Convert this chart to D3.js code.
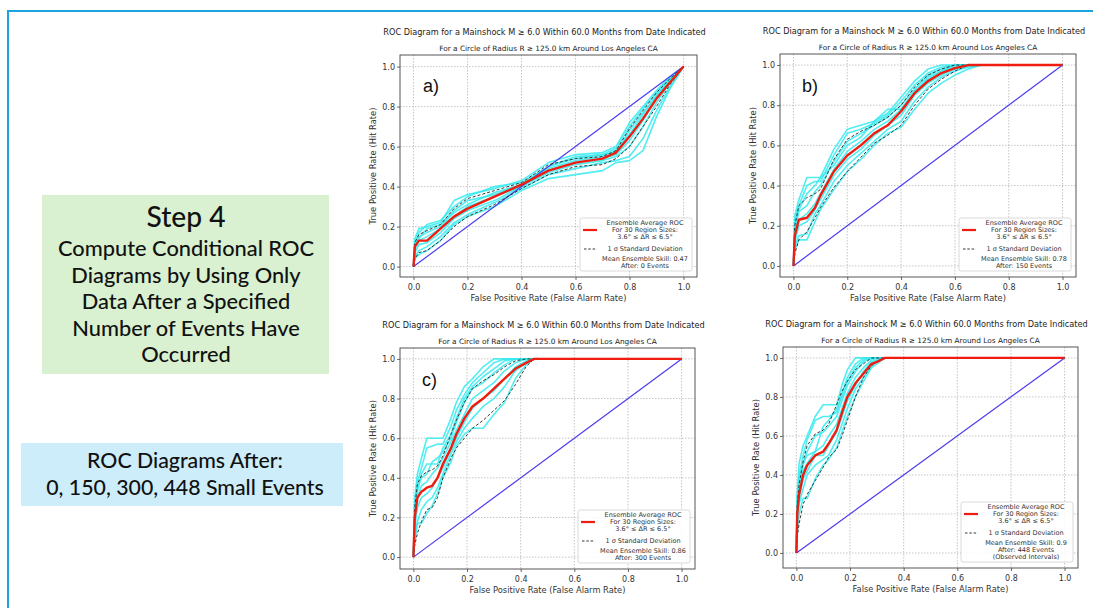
<!DOCTYPE html>
<html>
<head>
<meta charset="utf-8">
<script src="https://cdn.jsdelivr.net/npm/d3@7"></script>
<style>
  body { margin: 0; background: #fff; }
  svg { display: block; }
</style>
</head>
<body>
<div id="chart"></div>
<script>
// ---- data ----
const ticks = [0, 0.2, 0.4, 0.6, 0.8, 1.0];
const skillValues = [0.47, 0.78, 0.86, 0.9];
const eventsAfter = [0, 150, 300, 448];
const panelLabels = ["a)", "b)", "c)", ""];

// panel a (after 0 events)
const xGridA = [0, 0.005, 0.02, 0.05, 0.1, 0.15, 0.2, 0.3, 0.4, 0.5, 0.6, 0.7, 0.75, 0.8, 0.85, 0.9, 0.95, 1];
const meanA  = [0, 0.10, 0.13, 0.13, 0.19, 0.25, 0.29, 0.35, 0.41, 0.48, 0.52, 0.54, 0.57, 0.65, 0.74, 0.84, 0.92, 1];
const upperA = [0, 0.12, 0.16, 0.18, 0.21, 0.29, 0.34, 0.38, 0.42, 0.51, 0.54, 0.55, 0.58, 0.69, 0.78, 0.87, 0.94, 1];
const lowerA = [0, 0.04, 0.07, 0.08, 0.13, 0.20, 0.25, 0.31, 0.39, 0.46, 0.50, 0.51, 0.54, 0.60, 0.70, 0.80, 0.91, 1];
const cyanA = [
  [0, 0.14, 0.19, 0.20, 0.22, 0.33, 0.36, 0.39, 0.43, 0.52, 0.56, 0.57, 0.60, 0.72, 0.80, 0.88, 0.95, 1],
  [0, 0.12, 0.17, 0.21, 0.23, 0.30, 0.35, 0.40, 0.42, 0.50, 0.55, 0.56, 0.59, 0.70, 0.79, 0.87, 0.94, 1],
  [0, 0.11, 0.15, 0.17, 0.20, 0.27, 0.31, 0.37, 0.41, 0.49, 0.53, 0.55, 0.58, 0.66, 0.76, 0.86, 0.93, 1],
  [0, 0.09, 0.13, 0.15, 0.19, 0.25, 0.30, 0.35, 0.40, 0.48, 0.52, 0.54, 0.56, 0.63, 0.73, 0.84, 0.93, 1],
  [0, 0.07, 0.11, 0.12, 0.17, 0.24, 0.28, 0.33, 0.40, 0.47, 0.51, 0.53, 0.55, 0.60, 0.70, 0.82, 0.92, 1],
  [0, 0.05, 0.08, 0.10, 0.15, 0.22, 0.26, 0.32, 0.39, 0.46, 0.49, 0.52, 0.53, 0.55, 0.64, 0.78, 0.90, 1],
  [0, 0.04, 0.06, 0.08, 0.13, 0.21, 0.25, 0.30, 0.38, 0.44, 0.46, 0.48, 0.52, 0.53, 0.58, 0.75, 0.89, 1],
  [0, 0.10, 0.14, 0.19, 0.21, 0.28, 0.33, 0.36, 0.41, 0.50, 0.54, 0.56, 0.57, 0.68, 0.77, 0.85, 0.93, 1]
];

// panel b (after 150 events)
const xGridB = [0, 0.005, 0.02, 0.05, 0.08, 0.1, 0.15, 0.2, 0.25, 0.3, 0.35, 0.4, 0.45, 0.5, 0.55, 0.6, 0.65, 0.7, 1];
const meanB  = [0, 0.15, 0.23, 0.24, 0.29, 0.35, 0.47, 0.55, 0.60, 0.66, 0.70, 0.77, 0.86, 0.92, 0.96, 0.985, 1, 1, 1];
const upperB = [0, 0.20, 0.30, 0.34, 0.36, 0.38, 0.53, 0.63, 0.67, 0.70, 0.74, 0.80, 0.89, 0.95, 0.98, 1, 1, 1, 1];
const lowerB = [0, 0.06, 0.13, 0.17, 0.24, 0.29, 0.39, 0.47, 0.54, 0.61, 0.65, 0.70, 0.80, 0.88, 0.93, 0.97, 1, 1, 1];
const cyanB = [
  [0, 0.25, 0.33, 0.44, 0.44, 0.44, 0.58, 0.68, 0.70, 0.72, 0.76, 0.84, 0.92, 0.98, 1, 1, 1, 1, 1],
  [0, 0.22, 0.30, 0.40, 0.42, 0.42, 0.55, 0.66, 0.68, 0.71, 0.75, 0.82, 0.90, 0.96, 0.99, 1, 1, 1, 1],
  [0, 0.18, 0.27, 0.30, 0.37, 0.40, 0.52, 0.62, 0.66, 0.70, 0.74, 0.80, 0.88, 0.95, 0.98, 1, 1, 1, 1],
  [0, 0.15, 0.23, 0.26, 0.31, 0.36, 0.48, 0.57, 0.62, 0.68, 0.72, 0.78, 0.87, 0.93, 0.97, 0.99, 1, 1, 1],
  [0, 0.12, 0.20, 0.22, 0.28, 0.33, 0.45, 0.53, 0.58, 0.65, 0.70, 0.75, 0.85, 0.91, 0.95, 0.98, 0.99, 1, 1],
  [0, 0.10, 0.15, 0.16, 0.26, 0.30, 0.42, 0.50, 0.56, 0.62, 0.68, 0.72, 0.82, 0.89, 0.94, 0.97, 0.99, 1, 1],
  [0, 0.08, 0.13, 0.13, 0.22, 0.28, 0.38, 0.47, 0.53, 0.60, 0.66, 0.69, 0.78, 0.86, 0.91, 0.95, 0.98, 1, 1],
  [0, 0.20, 0.28, 0.36, 0.40, 0.44, 0.50, 0.60, 0.64, 0.72, 0.78, 0.78, 0.86, 0.94, 0.97, 1, 1, 1, 1]
];

// panel c (after 300 events)
const xGridC = [0, 0.005, 0.015, 0.03, 0.05, 0.07, 0.09, 0.11, 0.14, 0.16, 0.19, 0.22, 0.26, 0.3, 0.34, 0.38, 0.42, 0.45, 1];
const meanC  = [0, 0.20, 0.30, 0.33, 0.35, 0.36, 0.40, 0.47, 0.55, 0.62, 0.70, 0.76, 0.80, 0.85, 0.90, 0.95, 0.98, 1, 1];
const upperC = [0, 0.25, 0.37, 0.41, 0.43, 0.44, 0.46, 0.51, 0.62, 0.69, 0.78, 0.85, 0.89, 0.92, 0.96, 0.99, 1, 1, 1];
const lowerC = [0, 0.06, 0.12, 0.18, 0.24, 0.25, 0.30, 0.40, 0.50, 0.55, 0.60, 0.65, 0.69, 0.74, 0.79, 0.87, 0.96, 1, 1];
const cyanC = [
  [0, 0.30, 0.42, 0.50, 0.60, 0.60, 0.60, 0.60, 0.70, 0.78, 0.86, 0.90, 0.96, 1, 1, 1, 1, 1, 1],
  [0, 0.28, 0.38, 0.45, 0.55, 0.56, 0.57, 0.57, 0.66, 0.74, 0.82, 0.88, 0.93, 0.98, 1, 1, 1, 1, 1],
  [0, 0.25, 0.35, 0.40, 0.42, 0.48, 0.50, 0.53, 0.60, 0.68, 0.78, 0.85, 0.88, 0.93, 0.97, 1, 1, 1, 1],
  [0, 0.20, 0.30, 0.36, 0.38, 0.42, 0.45, 0.50, 0.58, 0.64, 0.72, 0.80, 0.84, 0.88, 0.94, 0.98, 1, 1, 1],
  [0, 0.15, 0.25, 0.30, 0.32, 0.35, 0.40, 0.45, 0.54, 0.60, 0.68, 0.75, 0.80, 0.84, 0.90, 0.96, 0.99, 1, 1],
  [0, 0.10, 0.18, 0.24, 0.28, 0.30, 0.35, 0.42, 0.52, 0.58, 0.65, 0.70, 0.76, 0.80, 0.86, 0.94, 0.98, 1, 1],
  [0, 0.08, 0.17, 0.17, 0.22, 0.26, 0.32, 0.40, 0.48, 0.56, 0.62, 0.65, 0.65, 0.72, 0.78, 0.90, 0.97, 1, 1],
  [0, 0.22, 0.33, 0.42, 0.47, 0.47, 0.47, 0.55, 0.62, 0.70, 0.80, 0.86, 0.91, 0.95, 0.99, 1, 1, 1, 1]
];

// panel d (after 448 events)
const xGridD = [0, 0.003, 0.01, 0.025, 0.04, 0.07, 0.1, 0.12, 0.15, 0.17, 0.19, 0.22, 0.25, 0.28, 0.3, 0.33, 1];
const meanD  = [0, 0.20, 0.30, 0.40, 0.45, 0.50, 0.52, 0.56, 0.63, 0.72, 0.80, 0.87, 0.92, 0.97, 0.98, 1, 1];
const upperD = [0, 0.25, 0.35, 0.47, 0.55, 0.61, 0.63, 0.66, 0.76, 0.83, 0.88, 0.94, 0.97, 1, 1, 1, 1];
const lowerD = [0, 0.08, 0.15, 0.25, 0.30, 0.37, 0.44, 0.49, 0.53, 0.60, 0.68, 0.80, 0.90, 0.96, 0.98, 1, 1];
const cyanD = [
  [0, 0.30, 0.46, 0.55, 0.60, 0.70, 0.76, 0.76, 0.76, 0.86, 0.94, 1, 1, 1, 1, 1, 1],
  [0, 0.28, 0.40, 0.50, 0.58, 0.68, 0.70, 0.70, 0.72, 0.82, 0.90, 0.97, 1, 1, 1, 1, 1],
  [0, 0.25, 0.35, 0.45, 0.52, 0.60, 0.62, 0.65, 0.70, 0.78, 0.86, 0.93, 0.98, 1, 1, 1, 1],
  [0, 0.22, 0.32, 0.42, 0.46, 0.52, 0.55, 0.60, 0.66, 0.74, 0.82, 0.90, 0.95, 0.99, 1, 1, 1],
  [0, 0.18, 0.28, 0.38, 0.42, 0.50, 0.50, 0.55, 0.62, 0.70, 0.78, 0.86, 0.93, 0.98, 0.99, 1, 1],
  [0, 0.15, 0.25, 0.33, 0.40, 0.45, 0.48, 0.50, 0.58, 0.66, 0.74, 0.84, 0.90, 0.96, 0.98, 1, 1],
  [0, 0.10, 0.20, 0.28, 0.28, 0.38, 0.45, 0.48, 0.54, 0.62, 0.70, 0.80, 0.88, 0.95, 0.97, 1, 1],
  [0, 0.26, 0.38, 0.46, 0.50, 0.52, 0.65, 0.68, 0.74, 0.80, 0.88, 0.95, 0.99, 1, 1, 1, 1]
];

const stepLines = ["Compute Conditional ROC", "Diagrams by Using Only", "Data After a Specified", "Number of Events Have", "Occurred"];
const afterLines = ["ROC Diagrams After:", "0, 150, 300, 448 Small Events"];

// ---- layout ----
const width = 1093, height = 608;
const svg = d3.select("#chart").append("svg")
    .attr("width", width)
    .attr("height", height);

// scale a text's font so it spans a given width
function fitWidth(sel, target) {
    const fs = parseFloat(sel.attr("font-size"));
    const w = sel.node().getComputedTextLength();
    if (w > 0) sel.attr("font-size", fs * target / w);
    return parseFloat(sel.attr("font-size"));
}

// outer slide frame
svg.append("path")
    .attr("d", "M8,620 L8,11 L1100,11")
    .attr("fill", "none")
    .attr("stroke", "#1ca3dc")
    .attr("stroke-width", 2);

// left text boxes
svg.append("rect").attr("x", 42).attr("y", 195).attr("width", 287).attr("height", 179).attr("fill", "#d9f1d0");
svg.append("rect").attr("x", 21).attr("y", 443).attr("width", 322).attr("height", 63).attr("fill", "#cdedfa");

const leftFont = "Lato, 'Open Sans', sans-serif";
const stepTitle = svg.append("text")
    .attr("x", 186).attr("y", 227)
    .attr("text-anchor", "middle")
    .attr("font-family", leftFont)
    .attr("font-weight", 500)
    .attr("font-size", 24)
    .attr("fill", "#111")
    .text("Step 4");
fitWidth(stepTitle, 79);

const stepTexts = svg.append("g").selectAll("text")
    .data(stepLines)
    .join("text")
    .attr("x", 186)
    .attr("y", (d, i) => 256 + i * 26.5)
    .attr("text-anchor", "middle")
    .attr("font-family", leftFont)
    .attr("font-weight", 500)
    .attr("font-size", 18)
    .attr("fill", "#111")
    .text(d => d);
const stepFs = fitWidth(d3.select(stepTexts.nodes()[0]), 256);
stepTexts.attr("font-size", stepFs);

const afterTexts = svg.append("g").selectAll("text")
    .data(afterLines)
    .join("text")
    .attr("x", 185)
    .attr("y", (d, i) => 468 + i * 27)
    .attr("text-anchor", "middle")
    .attr("font-family", leftFont)
    .attr("font-weight", 500)
    .attr("font-size", 18)
    .attr("fill", "#111")
    .text(d => d);
const afterFs = fitWidth(d3.select(afterTexts.nodes()[0]), 196);
afterTexts.attr("font-size", afterFs);

// ---- panels ----
const panels = [
    { key: "a", l: 400, t: 55, r: 697, b: 277, yDom: [-0.052, 1.058], xs: xGridA, mean: meanA, upper: upperA, lower: lowerA, cyan: cyanA, lab: [423, 92] },
    { key: "b", l: 780, t: 54, r: 1076, b: 277, yDom: [-0.055, 1.055], xs: xGridB, mean: meanB, upper: upperB, lower: lowerB, cyan: cyanB, lab: [802, 92] },
    { key: "c", l: 400, t: 348, r: 695, b: 569, yDom: [-0.06, 1.055], xs: xGridC, mean: meanC, upper: upperC, lower: lowerC, cyan: cyanC, lab: [422, 386] },
    { key: "d", l: 783, t: 347, r: 1078, b: 568, yDom: [-0.077, 1.056], xs: xGridD, mean: meanD, upper: upperD, lower: lowerD, cyan: cyanD, lab: [0, 0] }
];

const mplFont = "'DejaVu Sans', sans-serif";

panels.forEach((p, idx) => {
    const x = d3.scaleLinear().domain([-0.05, 1.05]).range([p.l, p.r]);
    const y = d3.scaleLinear().domain(p.yDom).range([p.b, p.t]);
    const g = svg.append("g");

    svg.append("clipPath").attr("id", "clip-" + p.key)
        .append("rect")
        .attr("x", p.l).attr("y", p.t)
        .attr("width", p.r - p.l).attr("height", p.b - p.t);

    // grid
    const grid = g.append("g")
        .attr("stroke", "#b8b8b8")
        .attr("stroke-width", 0.8)
        .attr("stroke-dasharray", "1.5,1.5");
    grid.selectAll(".gx").data(ticks).join("line")
        .attr("x1", d => x(d)).attr("x2", d => x(d))
        .attr("y1", p.t).attr("y2", p.b);
    grid.selectAll(".gy").data(ticks).join("line")
        .attr("y1", d => y(d)).attr("y2", d => y(d))
        .attr("x1", p.l).attr("x2", p.r);

    const plot = g.append("g").attr("clip-path", "url(#clip-" + p.key + ")");
    const line = d3.line()
        .x((d, i) => x(p.xs[i]))
        .y(d => y(d));

    plot.selectAll(".cyan").data(p.cyan).join("path")
        .attr("d", line)
        .attr("fill", "none")
        .attr("stroke", "#33eaee")
        .attr("stroke-opacity", 0.85)
        .attr("stroke-width", 1.6)
        .attr("stroke-linejoin", "round");

    // random-guess diagonal
    plot.append("path")
        .datum([0, 1])
        .attr("d", d3.line().x(d => x(d)).y(d => y(d)))
        .attr("fill", "none")
        .attr("stroke", "#4b3bf0")
        .attr("stroke-width", 1.2);

    [p.upper, p.lower].forEach(s => {
        plot.append("path")
            .datum(s)
            .attr("d", line)
            .attr("fill", "none")
            .attr("stroke", "#222")
            .attr("stroke-width", 0.9)
            .attr("stroke-dasharray", "3,2");
    });

    plot.append("path")
        .datum(p.mean)
        .attr("d", line)
        .attr("fill", "none")
        .attr("stroke", "#ee1d10")
        .attr("stroke-width", 2.4)
        .attr("stroke-linejoin", "round");

    // axes
    const xAxis = g.append("g")
        .attr("transform", `translate(0,${p.b})`)
        .call(d3.axisBottom(x).tickValues(ticks).tickFormat(d3.format(".1f")).tickSize(3).tickPadding(4));
    const yAxis = g.append("g")
        .attr("transform", `translate(${p.l},0)`)
        .call(d3.axisLeft(y).tickValues(ticks).tickFormat(d3.format(".1f")).tickSize(3).tickPadding(2));
    [xAxis, yAxis].forEach(a => {
        a.select(".domain").remove();
        a.selectAll("line").attr("stroke", "#444").attr("stroke-width", 0.8);
        a.selectAll("text")
            .attr("font-family", mplFont)
            .attr("font-size", 8)
            .attr("fill", "#333");
    });

    g.append("rect")
        .attr("x", p.l).attr("y", p.t)
        .attr("width", p.r - p.l).attr("height", p.b - p.t)
        .attr("fill", "none")
        .attr("stroke", "#444")
        .attr("stroke-width", 0.9);

    // axis titles
    const xl = g.append("text")
        .attr("x", (p.l + p.r) / 2).attr("y", p.b + 21)
        .attr("text-anchor", "middle")
        .attr("dominant-baseline", "central")
        .attr("font-family", mplFont)
        .attr("font-size", 7)
        .attr("fill", "#333")
        .text("False Positive Rate (False Alarm Rate)");
    fitWidth(xl, 156);
    const yl = g.append("text")
        .attr("transform", `translate(${p.l - 27},${(p.t + p.b) / 2}) rotate(-90)`)
        .attr("text-anchor", "middle")
        .attr("dominant-baseline", "central")
        .attr("font-family", mplFont)
        .attr("font-size", 7)
        .attr("fill", "#333")
        .text("True Positive Rate (Hit Rate)");
    fitWidth(yl, 117);

    // titles
    const cx = (p.l + p.r) / 2 - 4;
    const t1 = g.append("text")
        .attr("x", cx).attr("y", p.t - 23.5)
        .attr("text-anchor", "middle")
        .attr("dominant-baseline", "central")
        .attr("font-family", mplFont)
        .attr("font-size", 7.5)
        .attr("fill", "#222")
        .text("ROC Diagram for a Mainshock M \u2265 6.0 Within 60.0 Months from Date Indicated");
    fitWidth(t1, 323);
    const t2 = g.append("text")
        .attr("x", cx + 4).attr("y", p.t - 6.5)
        .attr("text-anchor", "middle")
        .attr("dominant-baseline", "central")
        .attr("font-family", mplFont)
        .attr("font-size", 6)
        .attr("fill", "#222")
        .text("For a Circle of Radius R \u2265 125.0 km Around Los Angeles CA");
    fitWidth(t2, 219);

    if (panelLabels[idx]) {
        g.append("text")
            .attr("x", p.lab[0]).attr("y", p.lab[1])
            .attr("font-family", "'Liberation Sans', Arial, sans-serif")
            .attr("font-size", 18)
            .attr("fill", "#111")
            .text(panelLabels[idx]);
    }

    // legend
    const extra = idx === 3 ? ["(Observed Intervals)"] : [];
    const lh = 53 + extra.length * 7;
    const lw = 112;
    const L = p.r - 5 - lw, T = p.b - 6 - lh;
    const leg = g.append("g");
    leg.append("rect")
        .attr("x", L).attr("y", T).attr("width", lw).attr("height", lh)
        .attr("rx", 2)
        .attr("fill", "#fff").attr("fill-opacity", 0.85)
        .attr("stroke", "#d0d0d0").attr("stroke-width", 0.8);
    const tcx = L + 65;
    const legLines = [
        ["Ensemble Average ROC", 5],
        ["For 30 Region Sizes:", 11.8],
        ["3.6\u00b0 \u2264 \u0394R \u2264 6.5\u00b0", 18.5],
        ["1 \u03c3 Standard Deviation", 31],
        ["Mean Ensemble Skill: " + skillValues[idx], 40.5],
        ["After: " + eventsAfter[idx] + " Events", 47.5]
    ].concat(extra.map((e, k) => [e, 54.5 + k * 7]));
    const legTexts = leg.selectAll("text").data(legLines).join("text")
        .attr("x", tcx).attr("y", d => T + d[1])
        .attr("text-anchor", "middle")
        .attr("dominant-baseline", "central")
        .attr("font-family", mplFont)
        .attr("font-size", 6.3)
        .attr("fill", "#333")
        .text(d => d[0]);
    const legFs = fitWidth(d3.select(legTexts.nodes()[0]), 77);
    legTexts.attr("font-size", legFs);
    leg.append("line")
        .attr("x1", L + 3).attr("x2", L + 17)
        .attr("y1", T + 12).attr("y2", T + 12)
        .attr("stroke", "#ee1d10").attr("stroke-width", 2.2);
    leg.append("line")
        .attr("x1", L + 4).attr("x2", L + 17)
        .attr("y1", T + 31).attr("y2", T + 31)
        .attr("stroke", "#222").attr("stroke-width", 0.9)
        .attr("stroke-dasharray", "2.5,1.8");
});
</script>
</body>
</html>
